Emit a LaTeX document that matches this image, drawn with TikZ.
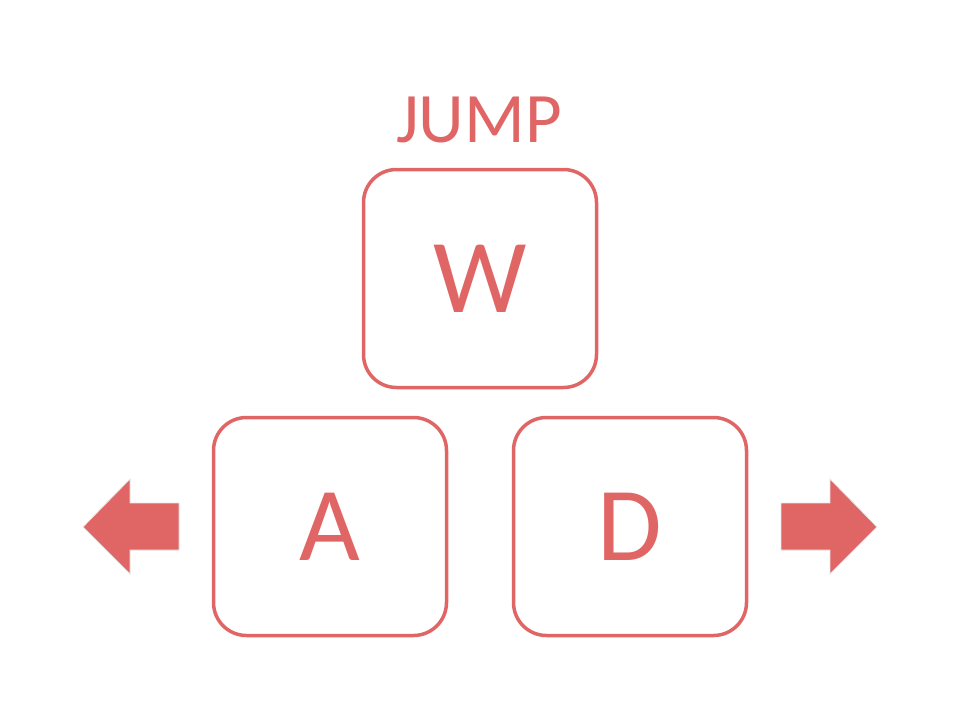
\documentclass[tikz,border=0pt]{standalone}
\usepackage{fontspec}
\setmainfont{Carlito}
\usepackage{tikz}
\definecolor{keyred}{RGB}{224,102,102}
\definecolor{edgegray}{RGB}{232,228,228}

\begin{document}
\begin{tikzpicture}[
		x=1pt, y=-1pt,
		key/.style={draw=keyred, line width=3.5pt, rounded corners=33pt,
				minimum width=233pt, minimum height=218pt, inner sep=0pt,
				text=keyred, font=\fontsize{105}{110}\selectfont},
		caption/.style={text=keyred, inner sep=0pt, font=\fontsize{71}{75}\selectfont},
		movearrow/.style={fill=keyred, draw=edgegray, line width=0.8pt}
	]
	\useasboundingbox (0,0) rectangle (960,720);

	% --- Keys ---
	\node[key] (w) at (480,278.5) {W};
	\node[key] (a) at (330,526.5) {A};
	\node[key] (d) at (630,526.5) {D};

	% --- Label above the jump key ---
	\node[caption] (jump) at (479,119.5) {JUMP};

	% --- Arrows to the sides ---
	\foreach \s in {-1,1}
	\draw[movearrow] ({480+397*\s},527) -- ({480+350*\s},479) -- ({480+350*\s},503)
		-- ({480+301*\s},503) -- ({480+301*\s},550) -- ({480+350*\s},550)
		-- ({480+350*\s},574) -- cycle;

\end{tikzpicture}
\end{document}
